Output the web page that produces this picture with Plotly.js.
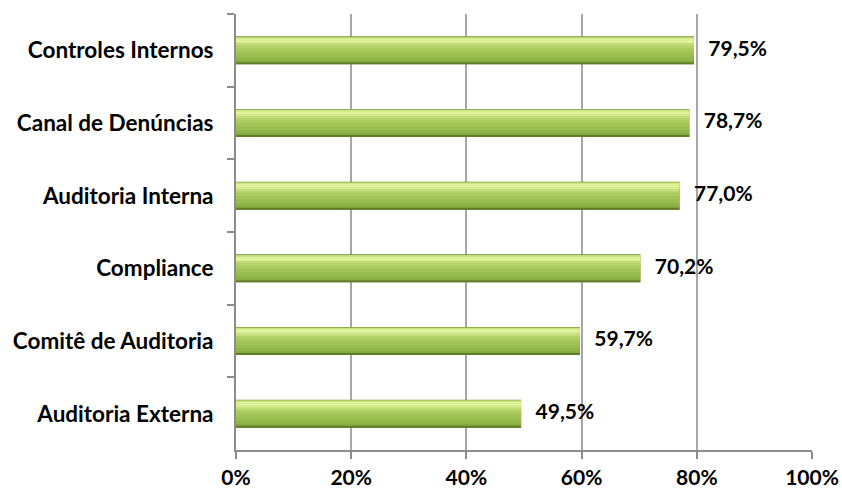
<!DOCTYPE html>
<html>
<head>
<meta charset="utf-8">
<script src="https://cdn.plot.ly/plotly-3.0.1.min.js"></script>
<style>
  html, body { margin: 0; padding: 0; background: #ffffff; }
  #chart { width: 842px; height: 491px; }
</style>
</head>
<body>
<div id="chart"></div>
<script>
// Mecanismos de controle (ordem de cima para baixo)
const categories = [
  'Controles Internos',
  'Canal de Denúncias',
  'Auditoria Interna',
  'Compliance',
  'Comitê de Auditoria',
  'Auditoria Externa'
];
const values = [0.795, 0.787, 0.770, 0.702, 0.597, 0.495];
const xTickVals = [0, 0.2, 0.4, 0.6, 0.8, 1.0];

// Bars are built from stacked horizontal strips to give a glossy gradient.
// Each strip: [start, end] as a fraction of the bar thickness (top -> bottom), colour.
const BAR_WIDTH = 0.385;
const strips = [
  [0.00, 1.00, '#6f8e32'],
  [0.03, 0.96, '#9dbf50'],
  [0.03, 0.08, '#cfe684'],
  [0.08, 0.14, '#e2f49e'],
  [0.14, 0.20, '#e8f8a6'],
  [0.20, 0.26, '#d8ee90'],
  [0.26, 0.33, '#c6e07c'],
  [0.33, 0.42, '#b6d46c'],
  [0.42, 0.52, '#aacb60'],
  [0.52, 0.64, '#a2c457'],
  [0.64, 0.76, '#9abd4f'],
  [0.76, 0.86, '#91b548'],
  [0.86, 0.93, '#86a940'],
  [0.93, 1.00, '#5f7c28']
];

const FONT = 'Lato, "Liberation Sans", Arial, sans-serif';
const FS = 21;
const FS_CAT = 22.5;

const traces = strips.map(([s, e, color]) => ({
  type: 'bar',
  orientation: 'h',
  y: categories,
  x: values,
  width: BAR_WIDTH * (e - s),
  offset: -BAR_WIDTH / 2 + BAR_WIDTH * s,
  marker: { color: color, line: { width: 0 } },
  hoverinfo: 'skip',
  showlegend: false
}));

// value labels to the right of each bar
traces.push({
  type: 'scatter',
  mode: 'text',
  y: categories,
  x: values,
  text: values.map(v => '\u2002\u2009\u200A' + (v * 100).toFixed(1).replace('.', ',') + '%'),
  textposition: 'middle right',
  textfont: { family: FONT, size: FS, color: '#000000', weight: 'bold' },
  hoverinfo: 'skip',
  showlegend: false,
  cliponaxis: false
});

const layout = {
  width: 842,
  height: 491,
  margin: { l: 236, r: 30, t: 14, b: 41 },
  paper_bgcolor: '#ffffff',
  plot_bgcolor: '#ffffff',
  barmode: 'overlay',
  separators: ',.',
  font: { family: FONT, size: FS, color: '#000000', weight: 'bold' },
  xaxis: {
    range: [0, 1],
    tickvals: xTickVals,
    tickformat: '.0%',
    showgrid: true,
    gridcolor: '#a6a6a6',
    gridwidth: 2,
    zeroline: false,
    showline: true,
    linecolor: '#8c8c8c',
    linewidth: 2,
    ticks: 'outside',
    ticklen: 7,
    tickwidth: 2,
    tickcolor: '#8c8c8c',
    ticklabelstandoff: 1,
    tickfont: { family: FONT, size: FS, color: '#000000', weight: 'bold' },
    fixedrange: true
  },
  yaxis: {
    type: 'category',
    autorange: 'reversed',
    showgrid: false,
    zeroline: false,
    showline: true,
    linecolor: '#8c8c8c',
    linewidth: 2,
    ticks: 'outside',
    tickson: 'boundaries',
    ticklen: 7,
    tickwidth: 2,
    tickcolor: '#8c8c8c',
    ticklabelstandoff: 16,
    tickfont: { family: FONT, size: FS_CAT, color: '#000000', weight: 'bold' },
    fixedrange: true
  }
};

Plotly.newPlot('chart', traces, layout, { displayModeBar: false, staticPlot: true });
</script>
</body>
</html>
